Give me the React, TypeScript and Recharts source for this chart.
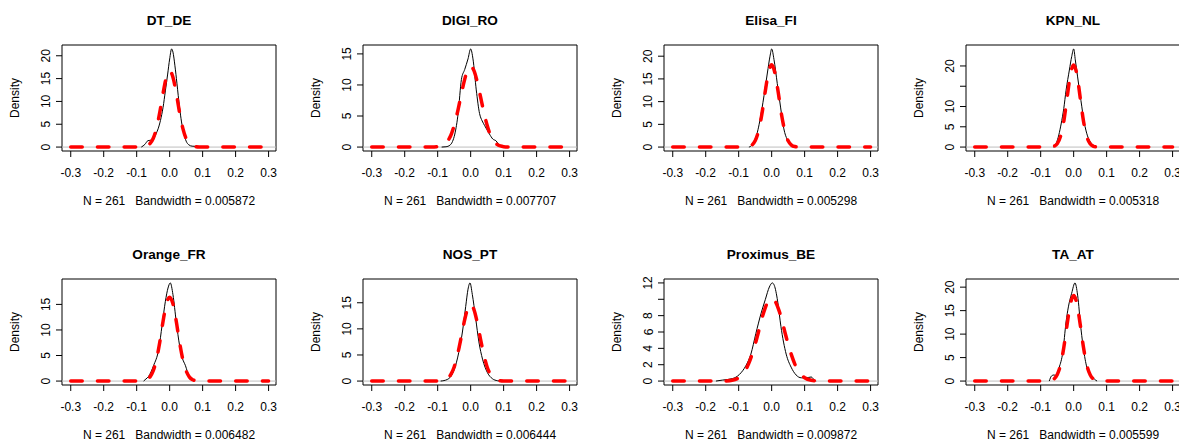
import React from 'react';
import { LineChart, Line, XAxis, YAxis, ReferenceLine, ReferenceArea } from 'recharts';

// one panel per series
const panelNames = ['DT_DE', 'DIGI_RO', 'Elisa_FI', 'KPN_NL', 'Orange_FR', 'NOS_PT', 'Proximus_BE', 'TA_AT'];
const bandwidths = ['0.005872', '0.007707', '0.005298', '0.005318', '0.006482', '0.006444', '0.009872', '0.005599'];
const sampleSize = 261;

const xTicks = [-0.3, -0.2, -0.1, 0, 0.1, 0.2, 0.3];
const xDomain: [number, number] = [-0.3265, 0.3225];

const yTicks = [
  [0, 5, 10, 15, 20],
  [0, 5, 10, 15],
  [0, 5, 10, 15, 20],
  [0, 5, 10, 15, 20],
  [0, 5, 10, 15],
  [0, 5, 10, 15],
  [0, 2, 4, 6, 8, 10, 12],
  [0, 5, 10, 15, 20],
];
// labels R dropped because they would overlap
const yHiddenLabels = [[], [], [], [15], [], [], [10], []];

// kernel density estimates (black), [x, density]
const dtDeKernel = [[-0.086, 0], [-0.075, 0.6], [-0.066, 1.4], [-0.058, 1.5], [-0.05, 1.8], [-0.042, 2.8], [-0.035, 4.0], [-0.028, 5.8], [-0.02, 8.7], [-0.013, 12.3], [-0.006, 16.0], [0.0, 19.3], [0.006, 21.5], [0.01, 20.8], [0.016, 17.8], [0.022, 14.0], [0.03, 8.7], [0.036, 5.5], [0.042, 3.3], [0.05, 1.3], [0.058, 0.5], [0.068, 0.2], [0.08, 0.15], [0.091, 0]];
const digiRoKernel = [[-0.088, 0], [-0.075, 0.05], [-0.063, 0.3], [-0.055, 0.9], [-0.048, 2.1], [-0.038, 5.4], [-0.028, 10.9], [-0.018, 12.5], [-0.008, 14.2], [0.0, 15.8], [0.007, 14.2], [0.017, 9.2], [0.027, 5.4], [0.035, 4.2], [0.042, 3.5], [0.057, 2.1], [0.067, 1.3], [0.077, 1.0], [0.087, 0.3], [0.095, 0.05], [0.102, 0]];
const elisaFiKernel = [[-0.069, 0], [-0.06, 0.4], [-0.053, 1.3], [-0.045, 2.8], [-0.038, 5.0], [-0.03, 8.2], [-0.023, 11.4], [-0.013, 16.3], [-0.005, 20.0], [0.0, 21.6], [0.007, 19.3], [0.017, 14.0], [0.027, 8.8], [0.037, 4.0], [0.047, 1.7], [0.055, 0.9], [0.062, 0.4], [0.072, 0]];
const kpnNlKernel = [[-0.062, 0], [-0.053, 0.9], [-0.045, 3.0], [-0.038, 5.7], [-0.03, 9.5], [-0.023, 14.0], [-0.013, 19.0], [-0.006, 22.3], [0.0, 24.2], [0.005, 21.5], [0.012, 17.3], [0.022, 11.5], [0.032, 6.1], [0.042, 2.75], [0.052, 1.1], [0.062, 0.25], [0.07, 0]];
const orangeFrKernel = [[-0.079, 0], [-0.072, 0.4], [-0.064, 0.9], [-0.049, 3.0], [-0.033, 6.3], [-0.023, 10.9], [-0.013, 15.6], [-0.005, 18.2], [0.002, 19.2], [0.01, 16.9], [0.02, 11.6], [0.03, 7.0], [0.038, 4.6], [0.048, 3.0], [0.058, 1.0], [0.063, 0.4], [0.068, 0]];
const nosPtKernel = [[-0.091, 0], [-0.071, 0.3], [-0.06, 0.9], [-0.051, 2.0], [-0.036, 5.5], [-0.025, 9.4], [-0.015, 14.3], [-0.008, 17.6], [-0.002, 18.8], [0.005, 16.6], [0.015, 12.1], [0.025, 7.5], [0.036, 4.2], [0.051, 1.6], [0.066, 0.45], [0.081, 0.07], [0.091, 0]];
const proximusBeKernel = [[-0.169, 0], [-0.149, 0.12], [-0.119, 0.3], [-0.098, 0.8], [-0.078, 1.9], [-0.063, 3.3], [-0.048, 5.8], [-0.032, 8.3], [-0.019, 10.0], [-0.007, 11.5], [0.002, 12.0], [0.008, 11.7], [0.018, 9.8], [0.028, 6.7], [0.044, 3.3], [0.059, 1.7], [0.074, 0.75], [0.09, 0.4], [0.105, 0.4], [0.12, 0.5], [0.13, 0.1], [0.135, 0]];
const taAtKernel = [[-0.074, 0], [-0.067, 1.1], [-0.06, 1.3], [-0.054, 1.2], [-0.044, 2.9], [-0.033, 6.1], [-0.023, 12.6], [-0.016, 15.8], [-0.006, 18.7], [0.004, 20.9], [0.012, 18.3], [0.022, 11.2], [0.032, 5.8], [0.043, 2.2], [0.053, 1.2], [0.063, 0.4], [0.071, 0]];

// fitted normal curves (red dashed), on a shared x grid
const normalX = [-0.3, -0.2, -0.16, -0.14, -0.12, -0.1, -0.09, -0.08, -0.07, -0.06, -0.05, -0.04, -0.03, -0.02, -0.01, 0, 0.01, 0.02, 0.03, 0.04, 0.05, 0.06, 0.07, 0.08, 0.09, 0.1, 0.12, 0.14, 0.16, 0.2, 0.3];
const dtDeNormal = [0, 0, 0, 0, 0, 0, 0.01, 0.06, 0.23, 0.72, 1.87, 4.1, 7.6, 11.8, 15.3, 16.7, 15.3, 11.8, 7.6, 4.1, 1.87, 0.72, 0.23, 0.06, 0.01, 0, 0, 0, 0, 0, 0];
const digiRoNormal = [0, 0, 0, 0, 0.01, 0.07, 0.18, 0.43, 0.97, 1.9, 3.5, 5.6, 8.1, 10.5, 12.3, 13.0, 12.3, 10.5, 8.1, 5.6, 3.5, 1.9, 0.97, 0.43, 0.18, 0.07, 0.01, 0, 0, 0, 0];
const elisaFiNormal = [0, 0, 0, 0, 0, 0, 0.005, 0.03, 0.11, 0.44, 1.37, 3.5, 7.1, 12.0, 16.3, 18.1, 16.3, 12.0, 7.1, 3.5, 1.37, 0.44, 0.11, 0.03, 0.005, 0, 0, 0, 0, 0, 0];
const kpnNlNormal = [0, 0, 0, 0, 0, 0, 0, 0.005, 0.04, 0.2, 0.81, 2.6, 6.3, 12.1, 17.8, 20.25, 17.8, 12.1, 6.3, 2.6, 0.81, 0.2, 0.04, 0.005, 0, 0, 0, 0, 0, 0, 0];
const orangeFrNormal = [0, 0, 0, 0, 0, 0, 0.01, 0.07, 0.26, 0.78, 2.0, 4.2, 7.6, 11.7, 15.1, 16.4, 15.1, 11.7, 7.6, 4.2, 2.0, 0.78, 0.26, 0.07, 0.01, 0, 0, 0, 0, 0, 0];
const nosPtNormal = [0, 0, 0, 0, 0, 0.02, 0.06, 0.19, 0.52, 1.27, 2.7, 5.0, 8.0, 11.2, 13.7, 14.7, 13.7, 11.2, 8.0, 5.0, 2.7, 1.27, 0.52, 0.19, 0.06, 0.02, 0, 0, 0, 0, 0];
const proximusBeNormal = [0, 0, 0, 0.02, 0.1, 0.41, 0.75, 1.3, 2.1, 3.2, 4.5, 6.0, 7.6, 8.9, 9.8, 10.1, 9.8, 8.9, 7.6, 6.0, 4.5, 3.2, 2.1, 1.3, 0.75, 0.41, 0.1, 0.02, 0, 0, 0];
const taAtNormal = [0, 0, 0, 0, 0, 0, 0.005, 0.02, 0.11, 0.43, 1.35, 3.4, 7.1, 12.0, 16.4, 18.2, 16.4, 12.0, 7.1, 3.4, 1.35, 0.43, 0.11, 0.02, 0.005, 0, 0, 0, 0, 0, 0];

const kernels = [dtDeKernel, digiRoKernel, elisaFiKernel, kpnNlKernel, orangeFrKernel, nosPtKernel, proximusBeKernel, taAtKernel];
const normals = [dtDeNormal, digiRoNormal, elisaFiNormal, kpnNlNormal, orangeFrNormal, nosPtNormal, proximusBeNormal, taAtNormal];

const CELL_W = 301;
const CELL_H = 230;
const BOX_LEFT = 62;
const BOX_RIGHT = 276;
const BOX_TOP = 45;
const BOX_BOTTOM = 151;
const colLeft = [0, 301, 602, 904];
const rowTop = [0, 234];
const FONT = '"Liberation Sans", Arial, sans-serif';

function XTick({ x, y, payload }: any) {
  return (
    <text x={x} y={y} textAnchor="middle" fontSize={12} fontFamily={FONT} fill="#000">
      {Number(payload.value).toFixed(1)}
    </text>
  );
}

function makeYTick(hidden: number[]) {
  return ({ x, y, payload }: any) => {
    if (hidden.includes(payload.value)) return <g />;
    return (
      <text x={x} y={y} transform={`rotate(-90 ${x} ${y})`} textAnchor="middle" fontSize={12} fontFamily={FONT} fill="#000">
        {payload.value}
      </text>
    );
  };
}

function DensityPanel({ index }: { index: number }) {
  const kernel = kernels[index].map(([x, y]) => ({ x, y }));
  const normal = normalX.map((x, i) => ({ x, y: normals[index][i] }));
  const maxY = Math.max(...kernels[index].map((p) => p[1]));
  const yDomain: [number, number] = [-0.04 * maxY, 1.04 * maxY];
  const cx = (BOX_LEFT + BOX_RIGHT) / 2;
  const cy = (BOX_TOP + BOX_BOTTOM) / 2;

  return (
    <div
      style={{
        position: 'absolute',
        left: colLeft[index % 4],
        top: rowTop[Math.floor(index / 4)],
        width: CELL_W,
        height: CELL_H,
      }}
    >
      <LineChart
        width={CELL_W}
        height={CELL_H}
        margin={{ top: BOX_TOP, right: CELL_W - BOX_RIGHT, bottom: CELL_H - BOX_BOTTOM - 30, left: 0 }}
      >
        <XAxis
          type="number"
          dataKey="x"
          domain={xDomain}
          ticks={xTicks}
          interval={0}
          allowDataOverflow
          height={30}
          axisLine={false}
          tickLine={{ stroke: '#000' }}
          tickSize={6}
          tickMargin={19.5}
          tick={XTick}
        />
        <YAxis
          type="number"
          dataKey="y"
          domain={yDomain}
          ticks={yTicks[index]}
          interval={0}
          allowDataOverflow
          width={BOX_LEFT}
          axisLine={false}
          tickLine={{ stroke: '#000' }}
          tickSize={6}
          tickMargin={5.5}
          tick={makeYTick(yHiddenLabels[index])}
        />
        <ReferenceLine y={0} stroke="#bebebe" strokeWidth={1} />
        <Line
          data={kernel}
          dataKey="y"
          type="monotone"
          stroke="#000"
          strokeWidth={1}
          dot={false}
          isAnimationActive={false}
        />
        <Line
          data={normal}
          dataKey="y"
          type="monotone"
          stroke="#ff0000"
          strokeWidth={3.5}
          strokeDasharray="11.5 15.2"
          strokeLinecap="round"
          dot={false}
          isAnimationActive={false}
        />
        <ReferenceArea
          x1={xDomain[0]}
          x2={xDomain[1]}
          y1={yDomain[0]}
          y2={yDomain[1]}
          fill="none"
          fillOpacity={0}
          stroke="#000"
          strokeWidth={1}
          ifOverflow="visible"
        />
      </LineChart>
      <svg
        width={CELL_W}
        height={CELL_H}
        style={{ position: 'absolute', left: 0, top: 0, pointerEvents: 'none' }}
        fontFamily={FONT}
      >
        <text x={cx} y={24.5} textAnchor="middle" fontSize={13.6} fontWeight="bold" fill="#000">
          {panelNames[index]}
        </text>
        <text x={cx} y={204.5} textAnchor="middle" fontSize={12} fill="#000" style={{ whiteSpace: 'pre' }}>
          {`N = ${sampleSize}   Bandwidth = ${bandwidths[index]}`}
        </text>
        <text x={18.6} y={cy} transform={`rotate(-90 18.6 ${cy})`} textAnchor="middle" fontSize={12} fill="#000">
          Density
        </text>
      </svg>
    </div>
  );
}

export default function App() {
  return (
    <div
      style={{
        position: 'absolute',
        left: 0,
        top: 0,
        width: 1179,
        height: 444,
        overflow: 'hidden',
        background: '#fff',
      }}
    >
      {panelNames.map((name, i) => (
        <DensityPanel key={name} index={i} />
      ))}
    </div>
  );
}
